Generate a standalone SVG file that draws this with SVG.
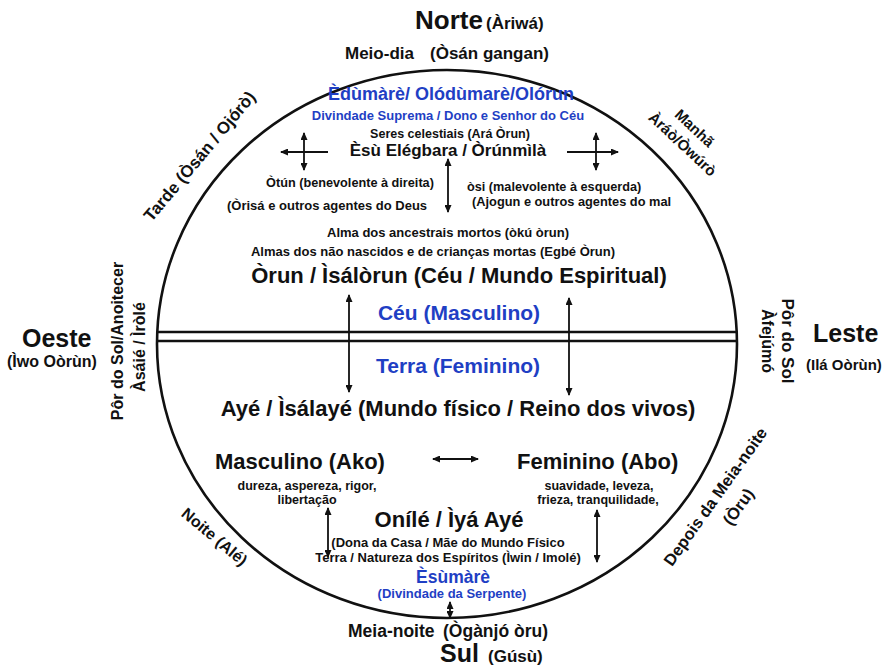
<svg xmlns="http://www.w3.org/2000/svg" width="892" height="667" viewBox="0 0 892 667">
<defs>
<style>
.t{font-family:"Liberation Sans",Arial,Helvetica,sans-serif;font-weight:bold;fill:#111}
.c{text-anchor:middle}
.b{fill:#1f3fc4}
.ln{stroke:#111;stroke-width:1.8;fill:none}
.a2{marker-start:url(#ah);marker-end:url(#ah)}
.ae{marker-end:url(#ah)}
.frame{stroke:#111;stroke-width:2.6;fill:none}
</style>
<marker id="ah" viewBox="0 0 8 7" refX="7" refY="3.5" markerWidth="8" markerHeight="7" markerUnits="userSpaceOnUse" orient="auto-start-reverse">
<path d="M0,0 L8,3.5 L0,7 z" fill="#111"/>
</marker>
</defs>
<rect width="892" height="667" fill="#fff"/>

<g id="cosmos">
<ellipse class="frame" cx="447" cy="344" rx="290" ry="274"/>
<line class="frame" x1="157" y1="332" x2="737" y2="332"/>
<line class="frame" x1="157" y1="341" x2="737" y2="341"/>
</g>

<g id="connectors">
<line class="ln ae" x1="328" y1="152" x2="281" y2="152"/>
<line class="ln a2" x1="304" y1="133" x2="304" y2="170"/>
<line class="ln ae" x1="567" y1="152" x2="618" y2="152"/>
<line class="ln a2" x1="596" y1="133" x2="596" y2="170"/>
<line class="ln a2" x1="448" y1="159" x2="448" y2="212"/>
<line class="ln a2" x1="349" y1="295" x2="349" y2="392"/>
<line class="ln a2" x1="569" y1="298" x2="569" y2="395"/>
<line class="ln a2" x1="433" y1="459" x2="478" y2="459"/>
<line class="ln a2" x1="328" y1="508" x2="328" y2="557"/>
<line class="ln a2" x1="597" y1="510" x2="597" y2="562"/>
<line class="ln a2" x1="450" y1="602" x2="450" y2="618"/>
</g>

<g id="norte">
<text class="t" x="415" y="29" font-size="26">Norte</text>
<text class="t" x="486" y="29" font-size="17">(Àriwá)</text>
<text class="t" x="345" y="59" font-size="17">Meio-dia</text>
<text class="t" x="430" y="59" font-size="17">(Òsán gangan)</text>
</g>

<g id="sul">
<text class="t" x="348" y="637" font-size="17.5">Meia-noite</text>
<text class="t" x="443" y="637" font-size="17.5">(Ògànjó òru)</text>
<text class="t" x="440" y="662" font-size="25">Sul</text>
<text class="t" x="488" y="662" font-size="17">(Gúsù)</text>
</g>

<g id="oeste">
<text class="t" x="22" y="347" font-size="25">Oeste</text>
<text class="t" x="7" y="367" font-size="16">(Ìwo Oòrùn)</text>
<text class="t c" font-size="16" transform="translate(123,341) rotate(-90)">Pôr do Sol/Anoitecer</text>
<text class="t c" font-size="16" transform="translate(145,347) rotate(-90)">Àsáié / Ìròlé</text>
</g>

<g id="leste">
<text class="t" x="813" y="342" font-size="25">Leste</text>
<text class="t" x="806" y="370" font-size="15">(Ilá Oòrùn)</text>
<text class="t c" font-size="17" transform="translate(782,341) rotate(90)">Pôr do Sol</text>
<text class="t c" font-size="16" transform="translate(762,341) rotate(90)">Àfejúmó</text>
</g>

<g id="tarde">
<text class="t c" font-size="17" transform="translate(204,160) rotate(-50)">Tarde (Òsán / Ojórò)</text>
</g>

<g id="manha">
<text class="t c" font-size="15" transform="translate(691,132) rotate(43)">Manhã</text>
<text class="t c" font-size="15" transform="translate(679,148) rotate(43)">Àráò/Òwúrò</text>
</g>

<g id="noite">
<text class="t c" font-size="16" transform="translate(211,541) rotate(40)">Noite (Alé)</text>
</g>

<g id="depois">
<text class="t c" font-size="16.5" transform="translate(720,500) rotate(-54.5)">Depois da Meia-noite</text>
<text class="t c" font-size="16.5" transform="translate(743,510) rotate(-54.5)">(Òru)</text>
</g>

<g id="edumare">
<text class="t c b" x="451" y="100" font-size="18">Èdùmàrè/ Olódùmarè/Olórun</text>
<text class="t c b" x="448" y="120" font-size="13">Divindade Suprema / Dono e Senhor do Céu</text>
</g>

<g id="esu">
<text class="t c" x="450" y="138" font-size="12.5">Seres celestiais (Ará Òrun)</text>
<text class="t c" x="448" y="156" font-size="17">Èsù Elégbara / Òrúnmìlà</text>
</g>

<g id="otun">
<text class="t c" x="350" y="187" font-size="12.7">Òtún (benevolente à direita)</text>
<text class="t" x="227" y="210" font-size="13">(Òrisá e outros agentes do Deus</text>
</g>

<g id="osi">
<text class="t" x="467" y="191" font-size="12.7">òsi (malevolente à esquerda)</text>
<text class="t" x="472" y="206" font-size="12.8">(Ajogun e outros agentes do mal</text>
</g>

<g id="orun">
<text class="t c" x="448" y="237" font-size="13">Alma dos ancestrais mortos (òkú òrun)</text>
<text class="t c" x="433" y="256" font-size="13">Almas dos não nascidos e de crianças mortas (Egbé Òrun)</text>
<text class="t c" x="459" y="283" font-size="22">Òrun / Ìsálòrun (Céu / Mundo Espiritual)</text>
</g>

<g id="ceu">
<text class="t c b" x="459" y="320" font-size="21">Céu (Masculino)</text>
</g>

<g id="terra">
<text class="t c b" x="458" y="373" font-size="21">Terra (Feminino)</text>
</g>

<g id="aye">
<text class="t c" x="458" y="416" font-size="22">Ayé / Ìsálayé (Mundo físico / Reino dos vivos)</text>
</g>

<g id="masculino">
<text class="t" x="215" y="469" font-size="22">Masculino (Ako)</text>
<text class="t c" x="307" y="490" font-size="12.5">dureza, aspereza, rigor,</text>
<text class="t c" x="307" y="504" font-size="12.5">libertação</text>
</g>

<g id="feminino">
<text class="t" x="517" y="469" font-size="22">Feminino (Abo)</text>
<text class="t c" x="599" y="490" font-size="12.5">suavidade, leveza,</text>
<text class="t c" x="598" y="504" font-size="12.5">frieza, tranquilidade,</text>
</g>

<g id="onile">
<text class="t c" x="449" y="527" font-size="22">Onílé / Ìyá Ayé</text>
<text class="t c" x="448" y="547" font-size="13">(Dona da Casa / Mãe do Mundo Físico</text>
<text class="t c" x="448" y="562" font-size="13">Terra / Natureza dos Espíritos (Ìwin / Imolé)</text>
</g>

<g id="esumare">
<text class="t c b" x="453" y="583" font-size="17.5">Èsùmàrè</text>
<text class="t c b" x="452" y="598" font-size="13">(Divindade da Serpente)</text>
</g>
</svg>
